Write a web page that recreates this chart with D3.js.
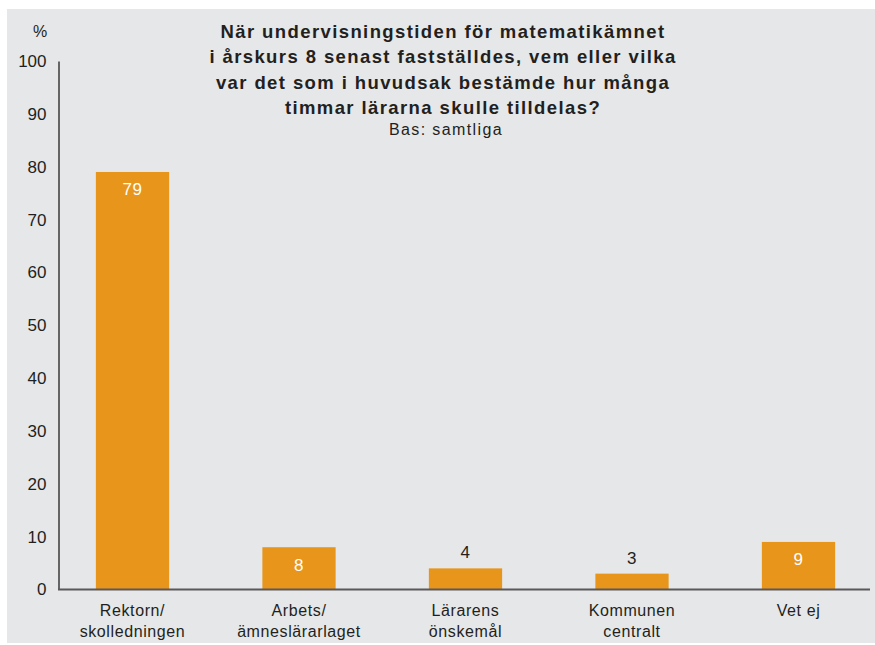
<!DOCTYPE html>
<html>
<head>
<meta charset="utf-8">
<script src="https://cdn.jsdelivr.net/npm/d3@7.9.0/dist/d3.min.js"></script>
<style>
    body { margin: 0; background: #fff; }
    text { font-family: "Liberation Sans", Arial, sans-serif; }
</style>
</head>
<body>
<div id="chart"></div>
<script>
// data
const categories = [
    ['Rektorn/', 'skolledningen'],
    ['Arbets/', 'ämneslärarlaget'],
    ['Lärarens', 'önskemål'],
    ['Kommunen', 'centralt'],
    ['Vet ej']
];
const values = [79, 8, 4, 3, 9];
const yTicks = [0, 10, 20, 30, 40, 50, 60, 70, 80, 90, 100];
const titleLines = [
    'När undervisningstiden för matematikämnet',
    'i årskurs 8 senast fastställdes, vem eller vilka',
    'var det som i huvudsak bestämde hur många',
    'timmar lärarna skulle tilldelas?'
];
const subtitle = 'Bas: samtliga';

const width = 875;
const height = 645;
const textColor = '#231f20';

const svg = d3.select('#chart')
    .append('svg')
    .attr('width', width)
    .attr('height', height);

// gray panel
svg.append('rect')
    .attr('x', 7)
    .attr('y', 9)
    .attr('width', width - 7)
    .attr('height', height - 11)
    .attr('fill', '#e6e7e9');

const xScale = d3.scaleBand()
    .domain(d3.range(categories.length))
    .range([49.25, 881.75])
    .paddingInner(0.56)
    .paddingOuter(0.28);

const yScale = d3.scaleLinear()
    .domain([0, 100])
    .range([589.5, 61]);

// bars
svg.append('g')
    .selectAll('rect')
    .data(values)
    .enter()
    .append('rect')
    .attr('x', (d, i) => xScale(i))
    .attr('y', d => yScale(d))
    .attr('width', xScale.bandwidth())
    .attr('height', d => yScale(0) - yScale(d))
    .attr('fill', '#e8951b');

// value labels: white inside the bar when it is tall enough, else above
const inside = d => yScale(0) - yScale(d) > 25;

svg.append('g')
    .selectAll('text')
    .data(values)
    .enter()
    .append('text')
    .attr('x', (d, i) => xScale(i) + xScale.bandwidth() / 2)
    .attr('y', d => inside(d) ? yScale(d) + 23.5 : yScale(d) - 10)
    .attr('text-anchor', 'middle')
    .attr('font-size', '17px')
    .style('letter-spacing', '0.5px')
    .attr('fill', d => inside(d) ? '#fff' : textColor)
    .text(d => d);

// y axis
const yAxis = d3.axisLeft(yScale)
    .tickValues(yTicks)
    .tickSize(0)
    .tickPadding(12);

const yg = svg.append('g')
    .attr('transform', 'translate(58.5, 0)')
    .call(yAxis);
yg.select('.domain').attr('stroke', textColor).attr('stroke-width', 1.3);
yg.selectAll('.tick text')
    .attr('font-size', '17px')
    .attr('fill', textColor)
    .attr('font-family', '"Liberation Sans", Arial, sans-serif');

// x axis line
svg.append('line')
    .attr('x1', 58)
    .attr('x2', 870)
    .attr('y1', yScale(0))
    .attr('y2', yScale(0))
    .attr('stroke', '#58595b')
    .attr('stroke-width', 2);

// category labels
const catLabels = svg.append('g')
    .selectAll('text')
    .data(categories)
    .enter()
    .append('text')
    .attr('x', (d, i) => xScale(i) + xScale.bandwidth() / 2)
    .attr('y', 616)
    .attr('text-anchor', 'middle')
    .attr('font-size', '16px')
    .style('letter-spacing', '0.6px')
    .attr('fill', textColor);

catLabels.selectAll('tspan')
    .data(d => d)
    .enter()
    .append('tspan')
    .attr('x', function() { return d3.select(this.parentNode).attr('x'); })
    .attr('dy', (d, i) => i === 0 ? 0 : 21)
    .text(d => d);

// % label
svg.append('text')
    .attr('x', 40)
    .attr('y', 37)
    .attr('text-anchor', 'middle')
    .attr('font-size', '16px')
    .attr('fill', textColor)
    .text('%');

// title
svg.append('g')
    .selectAll('text')
    .data(titleLines)
    .enter()
    .append('text')
    .attr('x', 443)
    .attr('y', (d, i) => 37.5 + i * 25.5)
    .attr('text-anchor', 'middle')
    .attr('font-size', '18.5px')
    .attr('font-weight', 'bold')
    .style('letter-spacing', '1.4px')
    .attr('fill', textColor)
    .text(d => d);

svg.append('text')
    .attr('x', 446)
    .attr('y', 135)
    .attr('text-anchor', 'middle')
    .attr('font-size', '16px')
    .style('letter-spacing', '1.4px')
    .attr('fill', textColor)
    .text(subtitle);
</script>
</body>
</html>
